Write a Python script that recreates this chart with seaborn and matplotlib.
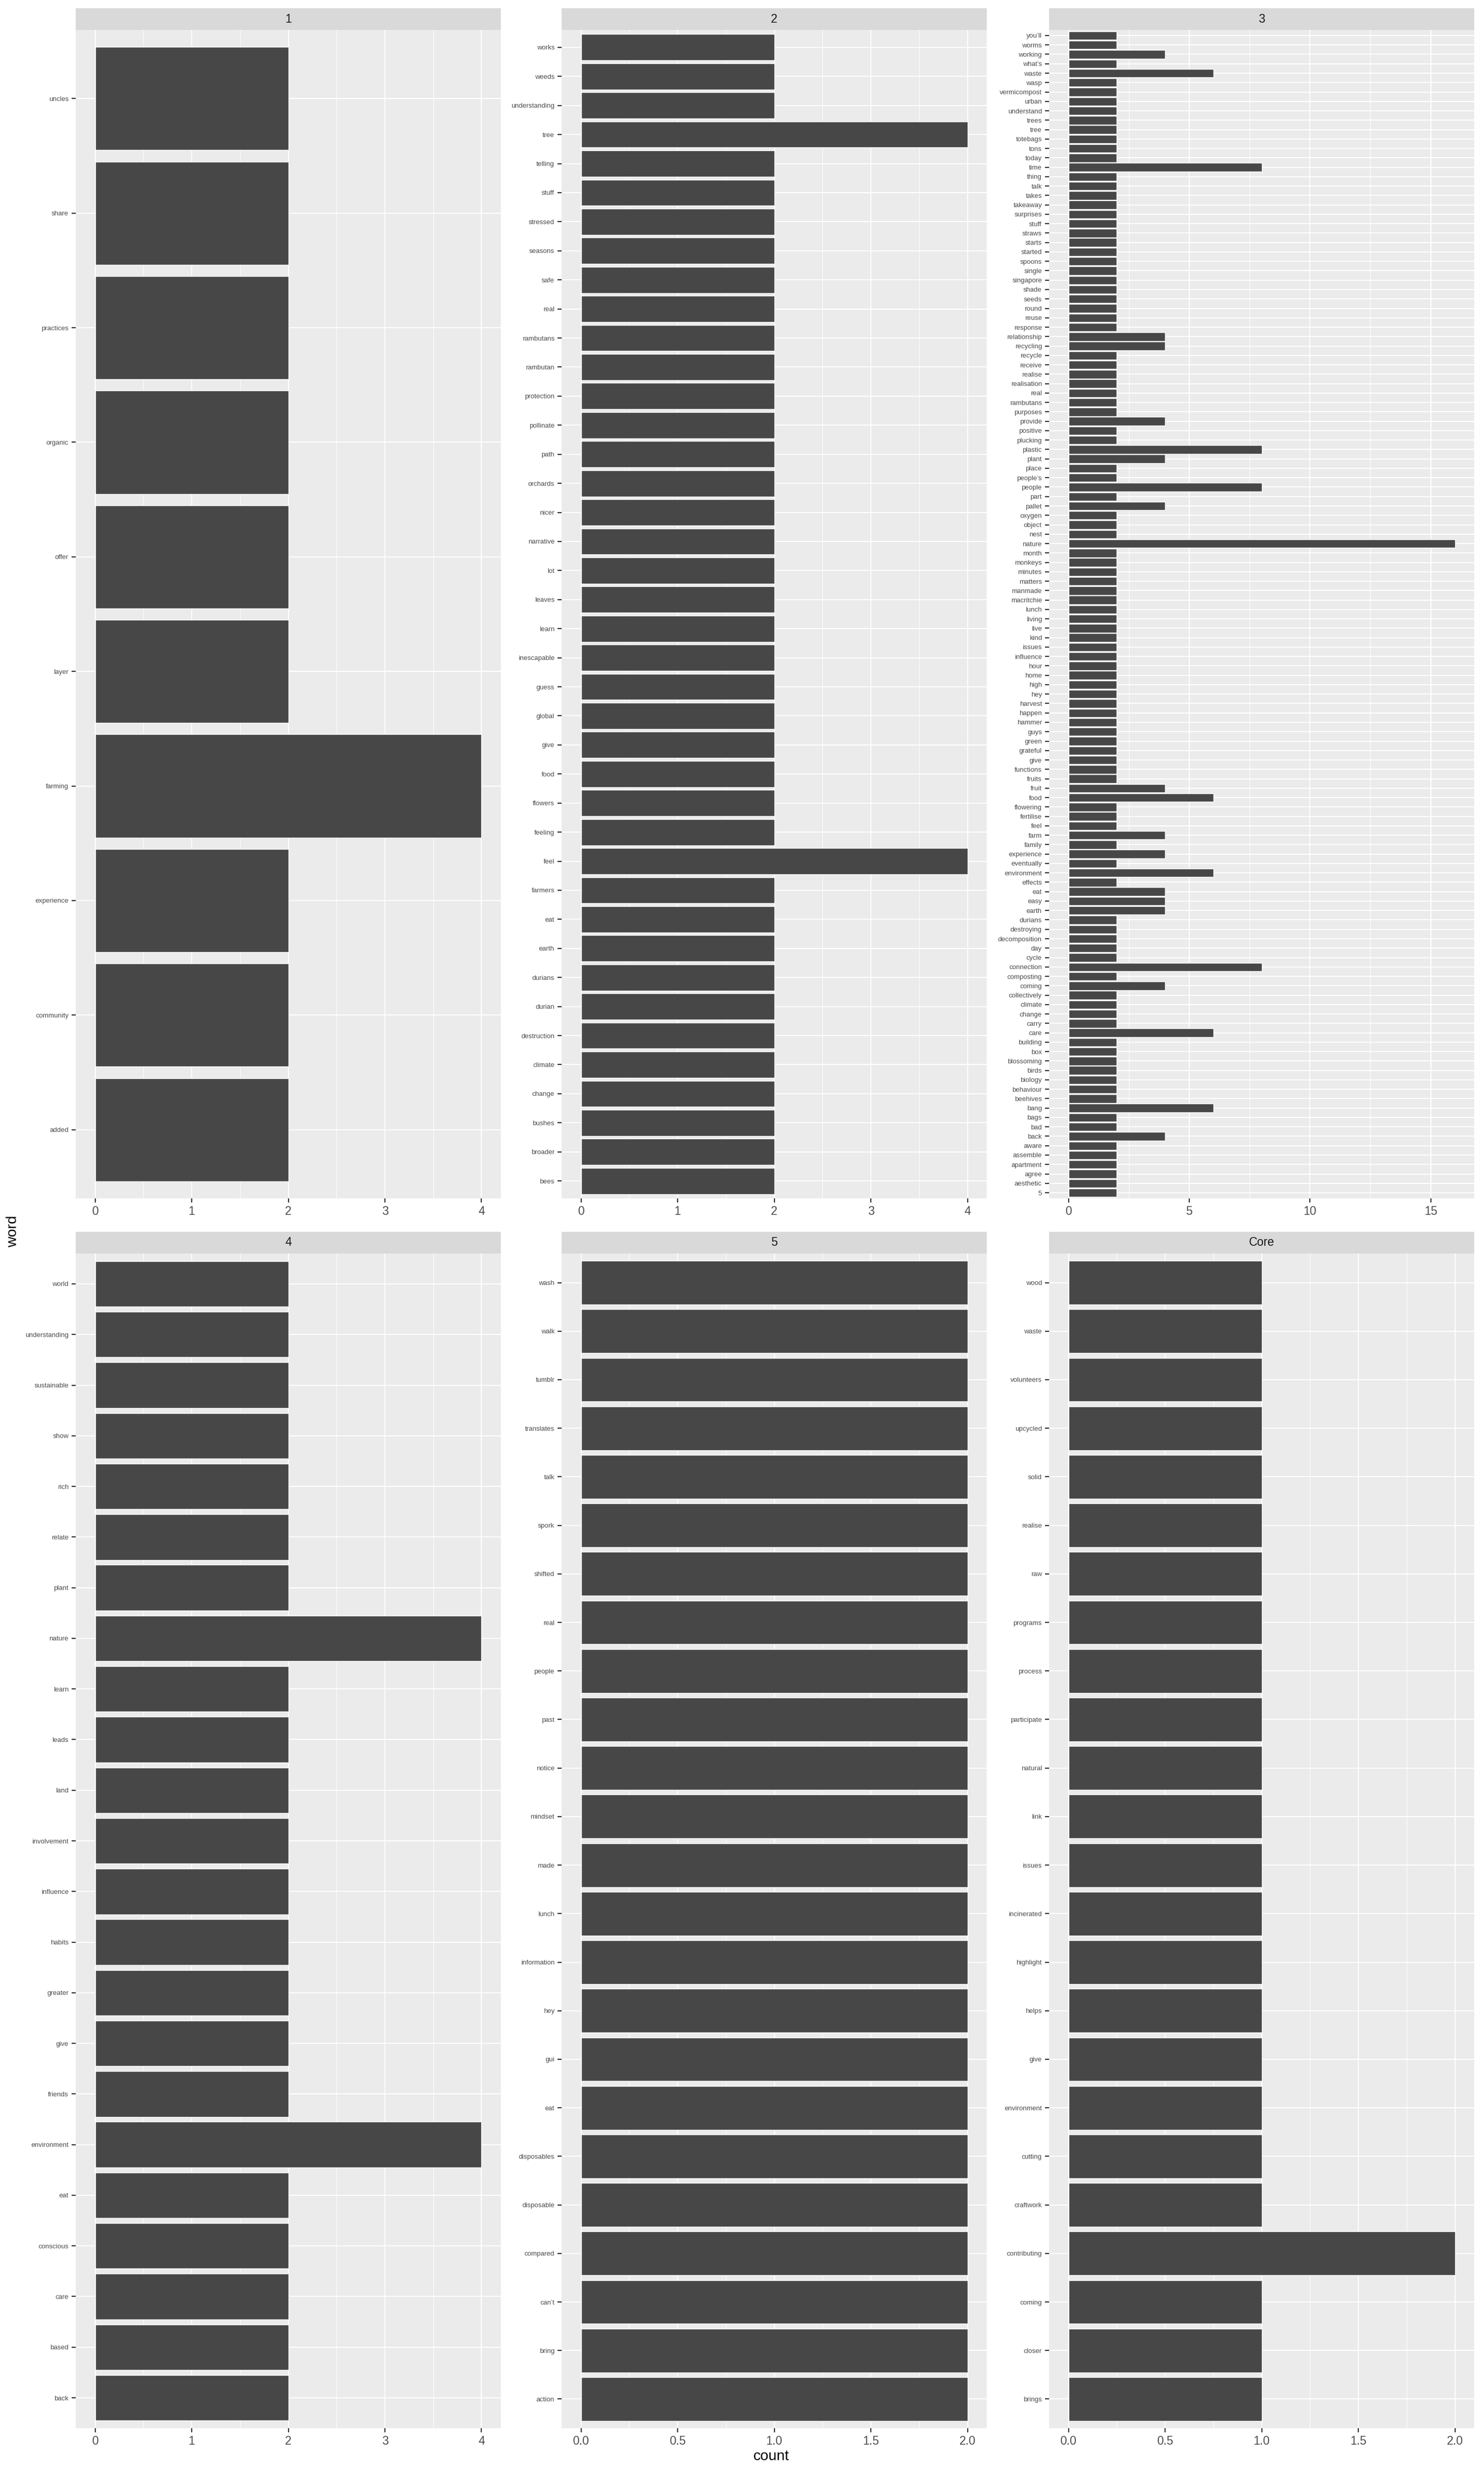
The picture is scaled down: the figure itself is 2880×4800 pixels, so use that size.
import numpy as np
import pandas as pd
import seaborn as sns
import matplotlib.pyplot as plt
from matplotlib.ticker import FixedLocator, MultipleLocator

# ---- data (top-to-bottom display order) ----
words_1 = ["uncles", "share", "practices", "organic", "offer", "layer",
           "farming", "experience", "community", "added"]
counts_1 = [2, 2, 2, 2, 2, 2, 4, 2, 2, 2]

words_2 = ["works", "weeds", "understanding", "tree", "telling", "stuff",
           "stressed", "seasons", "safe", "real", "rambutans", "rambutan",
           "protection", "pollinate", "path", "orchards", "nicer", "narrative",
           "lot", "leaves", "learn", "inescapable", "guess", "global", "give",
           "food", "flowers", "feeling", "feel", "farmers", "eat", "earth",
           "durians", "durian", "destruction", "climate", "change", "bushes",
           "broader", "bees"]
counts_2 = [2, 2, 2, 4, 2, 2, 2, 2, 2, 2,
            2, 2, 2, 2, 2, 2, 2, 2, 2, 2,
            2, 2, 2, 2, 2, 2, 2, 2, 4, 2,
            2, 2, 2, 2, 2, 2, 2, 2, 2, 2]

words_3 = ["you’ll", "worms", "working", "what’s", "waste", "wasp",
           "vermicompost", "urban", "understand", "trees",
           "tree", "totebags", "tons", "today", "time", "thing", "talk",
           "takes", "takeaway", "surprises",
           "stuff", "straws", "starts", "started", "spoons", "single",
           "singapore", "shade", "seeds", "round",
           "reuse", "response", "relationship", "recycling", "recycle",
           "receive", "realise", "realisation", "real", "rambutans",
           "purposes", "provide", "positive", "plucking", "plastic", "plant",
           "place", "people’s", "people", "part",
           "pallet", "oxygen", "object", "nest", "nature", "month", "monkeys",
           "minutes", "matters", "manmade",
           "macritchie", "lunch", "living", "live", "kind", "issues",
           "influence", "hour", "home", "high",
           "hey", "harvest", "happen", "hammer", "guys", "green", "grateful",
           "give", "functions", "fruits",
           "fruit", "food", "flowering", "fertilise", "feel", "farm", "family",
           "experience", "eventually", "environment",
           "effects", "eat", "easy", "earth", "durians", "destroying",
           "decomposition", "day", "cycle", "connection",
           "composting", "coming", "collectively", "climate", "change", "carry",
           "care", "building", "box", "blossoming",
           "birds", "biology", "behaviour", "beehives", "bang", "bags", "bad",
           "back", "aware", "assemble",
           "apartment", "agree", "aesthetic", "5"]
counts_3 = [2, 2, 4, 2, 6, 2, 2, 2, 2, 2,
            2, 2, 2, 2, 8, 2, 2, 2, 2, 2,
            2, 2, 2, 2, 2, 2, 2, 2, 2, 2,
            2, 2, 4, 4, 2, 2, 2, 2, 2, 2,
            2, 4, 2, 2, 8, 4, 2, 2, 8, 2,
            4, 2, 2, 2, 16, 2, 2, 2, 2, 2,
            2, 2, 2, 2, 2, 2, 2, 2, 2, 2,
            2, 2, 2, 2, 2, 2, 2, 2, 2, 2,
            4, 6, 2, 2, 2, 4, 2, 4, 2, 6,
            2, 4, 4, 4, 2, 2, 2, 2, 2, 8,
            2, 4, 2, 2, 2, 2, 6, 2, 2, 2,
            2, 2, 2, 2, 6, 2, 2, 4, 2, 2,
            2, 2, 2, 2]

words_4 = ["world", "understanding", "sustainable", "show", "rich", "relate",
           "plant", "nature", "learn", "leads", "land", "involvement",
           "influence", "habits", "greater", "give", "friends", "environment",
           "eat", "conscious", "care", "based", "back"]
counts_4 = [2, 2, 2, 2, 2, 2, 2, 4, 2, 2, 2, 2,
            2, 2, 2, 2, 2, 4, 2, 2, 2, 2, 2]

words_5 = ["wash", "walk", "tumblr", "translates", "talk", "spork", "shifted",
           "real", "people", "past", "notice", "mindset", "made", "lunch",
           "information", "hey", "gui", "eat", "disposables", "disposable",
           "compared", "can’t", "bring", "action"]
counts_5 = [2] * 24

words_core = ["wood", "waste", "volunteers", "upcycled", "solid", "realise",
              "raw", "programs", "process", "participate", "natural", "link",
              "issues", "incinerated", "highlight", "helps", "give",
              "environment", "cutting", "craftwork", "contributing", "coming",
              "closer", "brings"]
counts_core = [1, 1, 1, 1, 1, 1, 1, 1, 1, 1, 1, 1,
               1, 1, 1, 1, 1, 1, 1, 1, 2, 1, 1, 1]

panel_names = ["1", "2", "3", "4", "5", "Core"]
ticks_int4 = [0, 1, 2, 3, 4]
ticks_16 = [0, 5, 10, 15]
ticks_half = [0.0, 0.5, 1.0, 1.5, 2.0]
tick_labels_int4 = ["0", "1", "2", "3", "4"]
tick_labels_16 = ["0", "5", "10", "15"]
tick_labels_half = ["0.0", "0.5", "1.0", "1.5", "2.0"]

panels = [
    (words_1, counts_1, ticks_int4, tick_labels_int4),
    (words_2, counts_2, ticks_int4, tick_labels_int4),
    (words_3, counts_3, ticks_16, tick_labels_16),
    (words_4, counts_4, ticks_int4, tick_labels_int4),
    (words_5, counts_5, ticks_half, tick_labels_half),
    (words_core, counts_core, ticks_half, tick_labels_half),
]

# ---- style ----
sns.set_theme(style="darkgrid")
plt.rcParams['font.family'] = ['Liberation Sans', 'DejaVu Sans']

W, H = 2880, 4800
fig = plt.figure(figsize=(W / 100, H / 100), dpi=100)
fig.patch.set_facecolor("white")

col_left = [147, 1090, 2036]
panel_w = 825
row_top = [58, 2433]
row_bot = [2326, 4713]
strip_h = 42

for i, (name, (words, counts, ticks, tlabels)) in enumerate(zip(panel_names, panels)):
    r, c = divmod(i, 3)
    left = col_left[c] / W
    bottom = 1 - row_bot[r] / H
    height = (row_bot[r] - row_top[r]) / H
    ax = fig.add_axes([left, bottom, panel_w / W, height])
    df = pd.DataFrame({"word": words, "count": counts})
    sns.barplot(data=df, x="count", y="word", order=words, orient="h",
                color="#474747", saturation=1, width=0.9, errorbar=None, ax=ax)
    n = len(words)
    m = max(counts)
    ax.set_facecolor("#EBEBEB")
    ax.set_axisbelow(True)
    ax.set_xlim(-0.05 * m, 1.05 * m)
    ax.set_ylim(n - 1 + 0.6, -0.6)
    ax.xaxis.set_major_locator(FixedLocator(ticks))
    ax.set_xticklabels(tlabels)
    step = ticks[1] - ticks[0]
    ax.xaxis.set_minor_locator(MultipleLocator(step / 2))
    ax.grid(False)
    ax.xaxis.grid(True, which="major", color="white", linewidth=1.5)
    ax.xaxis.grid(True, which="minor", color="white", linewidth=0.75)
    ax.yaxis.grid(True, which="major", color="white", linewidth=1.5)
    for s in ax.spines.values():
        s.set_visible(False)
    ax.tick_params(axis="x", which="major", length=6, width=1.6, color="#333333",
                   labelsize=16.5, labelcolor="#4D4D4D", pad=4, bottom=True)
    ax.tick_params(axis="y", which="major", length=6, width=1.6, color="#333333",
                   labelsize=9.5, labelcolor="#4D4D4D", pad=4, left=True)
    ax.tick_params(which="minor", length=0)
    ax.set_xlabel("")
    ax.set_ylabel("")

    sax = fig.add_axes([left, 1 - row_top[r] / H, panel_w / W, strip_h / H])
    sax.set_facecolor("#D9D9D9")
    sax.set_xticks([])
    sax.set_yticks([])
    for s in sax.spines.values():
        s.set_visible(False)
    sax.text(0.5, 0.5, name, ha="center", va="center", fontsize=16.5,
             color="#1A1A1A", transform=sax.transAxes)

fig.text(1497 / W, 1 - 4768 / H, "count", ha="center", va="center",
         fontsize=20.5, color="black")
fig.text(25 / W, 1 - 2390 / H, "word", ha="center", va="center",
         rotation=90, fontsize=20.5, color="black")

fig.savefig("out.png", dpi=100, facecolor="white")
